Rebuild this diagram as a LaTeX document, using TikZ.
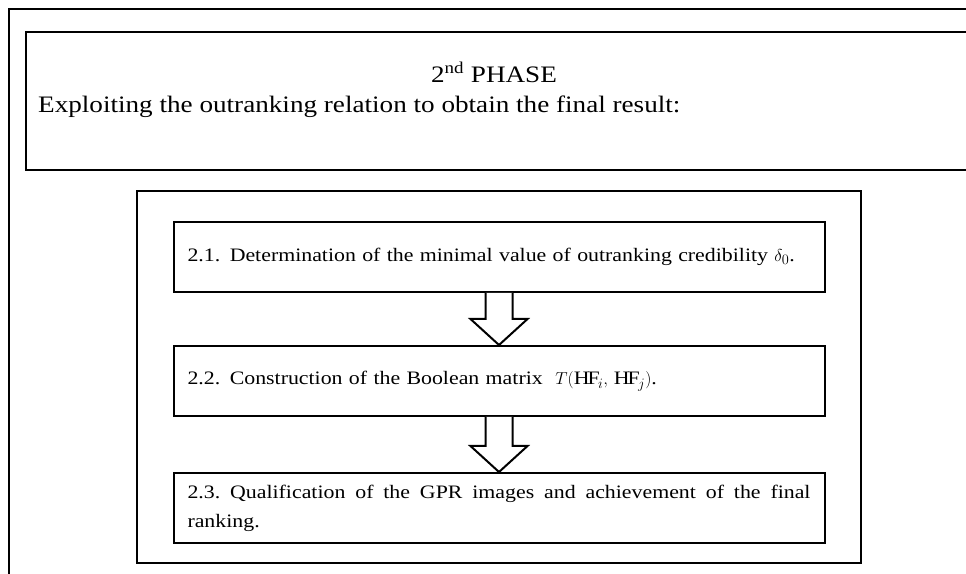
\documentclass[tikz,border=0pt]{standalone}
\usepackage{fontspec}
\setmainfont{Liberation Serif}[FakeStretch=1.15]
\usetikzlibrary{positioning, calc}
\hyphenpenalty=10000

% fleche creuse entre deux etapes
\newcommand{\bloc}[2]{%
    \draw[fleche] ($(#1.south)+(-13.5,0)$) -- ($(#2.north)+(-13.5,26)$)
        -- ($(#2.north)+(-28.5,26)$) -- (#2.north)
        -- ($(#2.north)+(28.5,26)$) -- ($(#2.north)+(13.5,26)$)
        -- ($(#1.south)+(13.5,0)$);}

\begin{document}
\begin{tikzpicture}[
        x=1pt, y=1pt,
        cadre/.style={
            draw=black,
            line width=2.4pt
        },
        phasebox/.style={
            rectangle,
            draw=black,
            line width=2.4pt,
            minimum width=954pt,
            minimum height=138pt,
            inner sep=0pt
        },
        groupe/.style={
            rectangle,
            draw=black,
            line width=2pt,
            minimum width=724pt,
            minimum height=372pt,
            inner sep=0pt
        },
        etape/.style={
            rectangle,
            draw=black,
            line width=2pt,
            text width=623pt,
            inner xsep=14pt,
            inner ysep=0pt,
            minimum height=70pt,
            align=left,
            font=\fontsize{19}{29}\selectfont
        },
        phasetexte/.style={
            inner sep=0pt,
            font=\fontsize{23.6}{27}\selectfont
        },
        fleche/.style={
            draw=black,
            line width=2pt,
            fill=white,
            line join=miter
        }
    ]
    \useasboundingbox (0,0) rectangle (966,573);

    % Cadre exterieur
    \draw[cadre] (9,-10) -- (9,564) -- (980,564);

    % Entete de la phase
    \node[phasebox] (phase) at (503,472) {};
    \node[phasetexte, anchor=base] (titre) at (494,490) {2\textsuperscript{nd} PHASE};
    \node[phasetexte, anchor=base west] (objet) at (38,460) {Exploiting the outranking relation to obtain the final result:};

    % Etapes
    \node[groupe] (grp) at (499,196) {};
    \node[etape, below=31pt of grp.north] (E1) {\mbox{2.1. Determination of the minimal value of outranking credibility\ $\delta_0$.}};
    \node[etape, below=52pt of E1] (E2) {\mbox{2.2. Construction of the Boolean matrix\ \ $T\bigl(\mathrm{HF}_i,\,\mathrm{HF}_j\bigr)$.}};
    \node[etape, below=55pt of E2, align=justify] (E3) {2.3.\ Qualification of the GPR images and achievement of the final ranking.};

    % Fleches
    \bloc{E1}{E2}
    \bloc{E2}{E3}

\end{tikzpicture}
\end{document}
